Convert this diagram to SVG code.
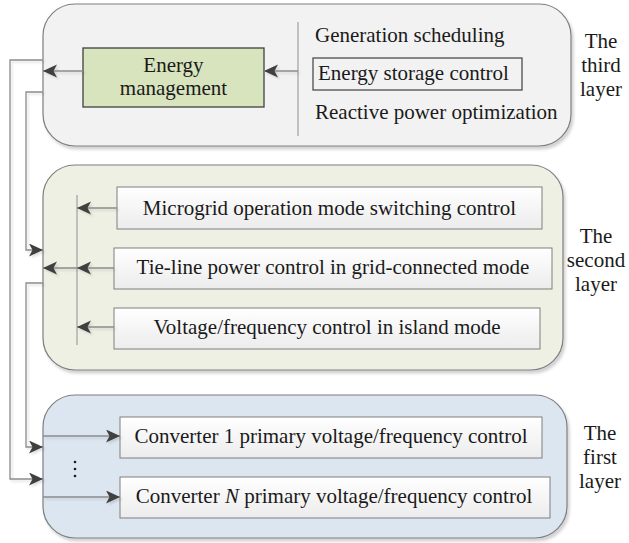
<svg xmlns="http://www.w3.org/2000/svg" width="629" height="543" viewBox="0 0 629 543">
<defs>
<style>
text{font-family:"Liberation Serif","Times New Roman",serif;font-size:21px;fill:#1a1a1a}
.lbl{text-anchor:middle}
.layer{stroke:#7f7f7f;stroke-width:1.2}
.ibox{fill:url(#gw);stroke:#7f7f7f;stroke-width:1}
.ln{fill:none;stroke:#8c8c8c;stroke-width:1.3}
.div{stroke:#a6a6a6;stroke-width:1.3}
</style>
<linearGradient id="gw" x1="0" y1="0" x2="0" y2="1">
<stop offset="0" stop-color="#ffffff"/>
<stop offset="1" stop-color="#ececec"/>
</linearGradient>
<filter id="sh" x="-5%" y="-5%" width="110%" height="115%">
<feDropShadow dx="2" dy="3" stdDeviation="1.5" flood-color="#000" flood-opacity="0.18"/>
</filter>
<filter id="lsh" x="-10%" y="-10%" width="120%" height="120%">
<feDropShadow dx="2" dy="2" stdDeviation="0.8" flood-color="#000" flood-opacity="0.12"/>
</filter>
<marker id="ah" markerUnits="userSpaceOnUse" markerWidth="16" markerHeight="14" refX="14" refY="6.5" orient="auto">
<path d="M0,0 L14,6.5 L0,13 L3.5,6.5 Z" fill="#3f3f3f"/>
</marker>
</defs>

<g id="layer3">
<rect class="layer" x="43" y="4" width="528" height="142" rx="32" fill="#f2f2f2" filter="url(#sh)"/>
<line class="div" x1="298" y1="22" x2="298" y2="136"/>
<g id="energy-management">
<rect x="83" y="48" width="181" height="59" fill="#d7e4bd" stroke="#3f3f3f" stroke-width="1.3"/>
<text class="lbl" x="173.5" y="72">Energy</text>
<text class="lbl" x="173.5" y="95">management</text>
</g>
<text x="315" y="42">Generation scheduling</text>
<g id="energy-storage">
<rect x="313" y="58" width="209" height="32" fill="none" stroke="#3f3f3f" stroke-width="1.2"/>
<text x="318" y="80">Energy storage control</text>
</g>
<text x="315" y="119">Reactive power optimization</text>
<g id="label3">
<text class="lbl" x="601" y="48">The</text>
<text class="lbl" x="601" y="72">third</text>
<text class="lbl" x="601" y="96">layer</text>
</g>
</g>

<g id="layer2">
<rect class="layer" x="43" y="165" width="520" height="205" rx="32" fill="#edf0e3" filter="url(#sh)"/>
<line class="div" x1="77" y1="195" x2="77" y2="345"/>
<g id="microgrid">
<rect class="ibox" x="117" y="187" width="425" height="42"/>
<text class="lbl" x="329.5" y="215">Microgrid operation mode switching control</text>
</g>
<g id="tieline">
<rect class="ibox" x="114" y="248" width="438" height="41"/>
<text class="lbl" x="333" y="274">Tie-line power control in grid-connected mode</text>
</g>
<g id="vf-island">
<rect class="ibox" x="114" y="308" width="426" height="41"/>
<text class="lbl" x="327" y="334">Voltage/frequency control in island mode</text>
</g>
<g id="label2">
<text class="lbl" x="596" y="243">The</text>
<text class="lbl" x="596" y="267">second</text>
<text class="lbl" x="596" y="291">layer</text>
</g>
</g>

<g id="layer1">
<rect class="layer" x="43" y="395" width="524" height="143" rx="32" fill="#dce6f1" filter="url(#sh)"/>
<g id="converter1">
<rect class="ibox" x="120" y="417" width="422" height="41"/>
<text class="lbl" x="331" y="443">Converter 1 primary voltage/frequency control</text>
</g>
<g id="converterN">
<rect class="ibox" x="120" y="477" width="430" height="41"/>
<text class="lbl" x="334" y="503">Converter <tspan font-style="italic">N</tspan> primary voltage/frequency control</text>
</g>
<g id="dots">
<circle cx="75" cy="462" r="1.3" fill="#1a1a1a"/>
<circle cx="75" cy="469" r="1.3" fill="#1a1a1a"/>
<circle cx="75" cy="476" r="1.3" fill="#1a1a1a"/>
</g>
<g id="label1">
<text class="lbl" x="600" y="440">The</text>
<text class="lbl" x="600" y="464">first</text>
<text class="lbl" x="600" y="488">layer</text>
</g>
</g>

<g id="connectors" filter="url(#lsh)">
<line class="ln" x1="298" y1="71" x2="264" y2="71" marker-end="url(#ah)"/>
<line class="ln" x1="83" y1="71" x2="43" y2="71" marker-end="url(#ah)"/>
<line class="ln" x1="117" y1="208" x2="77" y2="208" marker-end="url(#ah)"/>
<line class="ln" x1="114" y1="268" x2="77" y2="268" marker-end="url(#ah)"/>
<line class="ln" x1="114" y1="327" x2="77" y2="327" marker-end="url(#ah)"/>
<line class="ln" x1="77" y1="268" x2="43" y2="268" marker-end="url(#ah)"/>
<polyline class="ln" points="43,92 26,92 26,250 43,250" marker-end="url(#ah)"/>
<polyline class="ln" points="43,60 10,60 10,479 43,479" marker-end="url(#ah)"/>
<polyline class="ln" points="43,283 26,283 26,447 43,447" marker-end="url(#ah)"/>
<line class="ln" x1="43" y1="436" x2="120" y2="436" marker-end="url(#ah)"/>
<line class="ln" x1="43" y1="497" x2="120" y2="497" marker-end="url(#ah)"/>
</g>
</svg>
